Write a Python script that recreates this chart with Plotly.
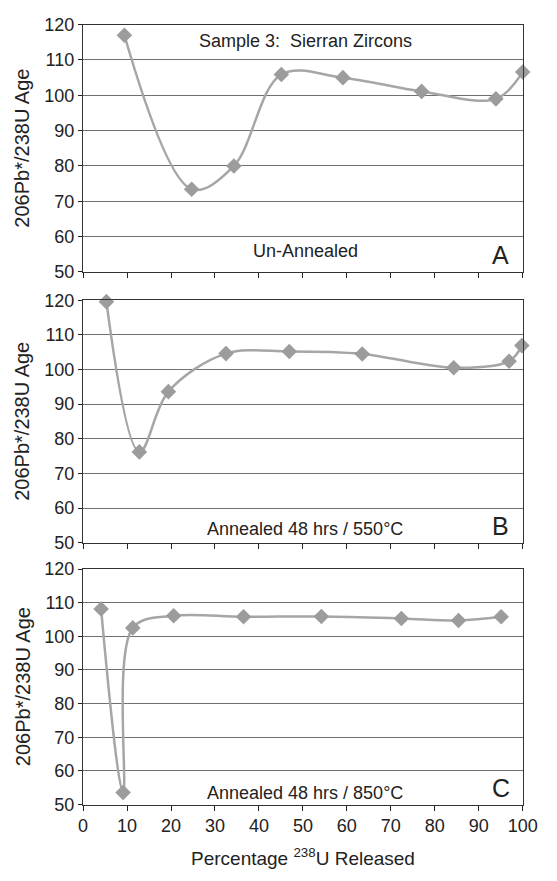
import plotly.graph_objects as go

# Step-heating data: percentage of 238U released vs. 206Pb*/238U age (Ma)
pct_a = [9.4, 24.7, 34.3, 45.1, 59.1, 77.0, 93.9, 100.0]
age_a = [117.0, 73.4, 80.0, 105.9, 105.0, 101.1, 99.0, 106.6]

pct_b = [5.3, 12.8, 19.4, 32.5, 46.9, 63.5, 84.3, 96.9, 99.8]
age_b = [119.6, 76.2, 93.6, 104.6, 105.2, 104.5, 100.5, 102.4, 106.9]

pct_c = [4.1, 9.1, 11.3, 20.6, 36.5, 54.2, 72.4, 85.4, 95.1]
age_c = [108.1, 53.6, 102.5, 106.1, 105.8, 105.9, 105.3, 104.7, 105.8]

x_ticks = [0, 10, 20, 30, 40, 50, 60, 70, 80, 90, 100]
y_ticks = [50, 60, 70, 80, 90, 100, 110, 120]

panels = [
    (pct_a, age_a, "Un-Annealed", 55.8, "A"),
    (pct_b, age_b, "Annealed 48 hrs / 550\u00b0C", 53.8, "B"),
    (pct_c, age_c, "Annealed 48 hrs / 850\u00b0C", 53.5, "C"),
]

W, H = 557, 881
x_dom = [81 / W, 537 / W]
y_px = [(15, 268), (297, 545), (572, 813)]

FONT = "Liberation Sans, Arial, sans-serif"
TXT = "#222222"

fig = go.Figure()
layout = dict(
    width=W, height=H,
    margin=dict(l=0, r=0, t=0, b=0),
    paper_bgcolor="white", plot_bgcolor="white",
    showlegend=False,
    font=dict(family=FONT, color=TXT),
    annotations=[],
)

for i, (xs, ys, cond, cond_y, letter) in enumerate(panels):
    n = i + 1
    sfx = "" if n == 1 else str(n)
    xa, ya = "x" + sfx, "y" + sfx
    fig.add_trace(go.Scatter(
        x=xs, y=ys, xaxis=xa, yaxis=ya, mode="lines+markers",
        line=dict(color="#A6A6A6", width=2.5, shape="spline", smoothing=1.0),
        marker=dict(symbol="diamond", size=12, color="#9C9C9C"),
        cliponaxis=False,
    ))
    top, bot = y_px[i]
    layout["xaxis" + sfx] = dict(
        domain=x_dom, anchor=ya, range=[0, 100],
        tickvals=x_ticks, showticklabels=(n == 3),
        ticks="outside", ticklen=5, tickcolor="#222", tickwidth=1.2,
        showline=True, linecolor="#333", linewidth=1.4, mirror=True,
        showgrid=False, zeroline=False,
        tickfont=dict(size=18, family=FONT, color=TXT),
    )
    layout["yaxis" + sfx] = dict(
        domain=[1 - bot / H, 1 - top / H], anchor=xa, range=[50, 120],
        tickvals=y_ticks, ticks="outside", ticklen=4, tickcolor="#222", tickwidth=1.2,
        showline=True, linecolor="#333", linewidth=1.4, mirror=True,
        showgrid=True, gridcolor="#707070", gridwidth=1.3, zeroline=False,
        tickfont=dict(size=18, family=FONT, color=TXT),
    )
    # rotated axis title for each panel
    layout["annotations"].append(dict(
        x=18 / W, y=1 - (top + bot) / 2 / H, xref="paper", yref="paper",
        text="206Pb*/238U Age", textangle=-90, showarrow=False,
        font=dict(size=20, family=FONT, color=TXT), xanchor="center", yanchor="middle",
    ))
    layout["annotations"].append(dict(
        x=50.5, y=cond_y, xref=xa, yref=ya, text=cond, showarrow=False,
        font=dict(size=18, family=FONT, color=TXT), xanchor="center", yanchor="middle",
    ))
    layout["annotations"].append(dict(
        x=95.0, y=54.8, xref=xa, yref=ya, text=letter, showarrow=False,
        font=dict(size=25, family=FONT, color=TXT), xanchor="center", yanchor="middle",
    ))

layout["annotations"].append(dict(
    x=50.5, y=115.4, xref="x", yref="y", text="Sample 3:  Sierran Zircons",
    showarrow=False, font=dict(size=18, family=FONT, color=TXT),
    xanchor="center", yanchor="middle",
))
layout["annotations"].append(dict(
    x=50, y=1 - 867 / H, xref="x3", yref="paper",
    text="Percentage <sup>238</sup>U Released", showarrow=False,
    font=dict(size=19, family=FONT, color=TXT), xanchor="center", yanchor="middle",
))

fig.update_layout(**layout)
fig.write_html("out.html")
